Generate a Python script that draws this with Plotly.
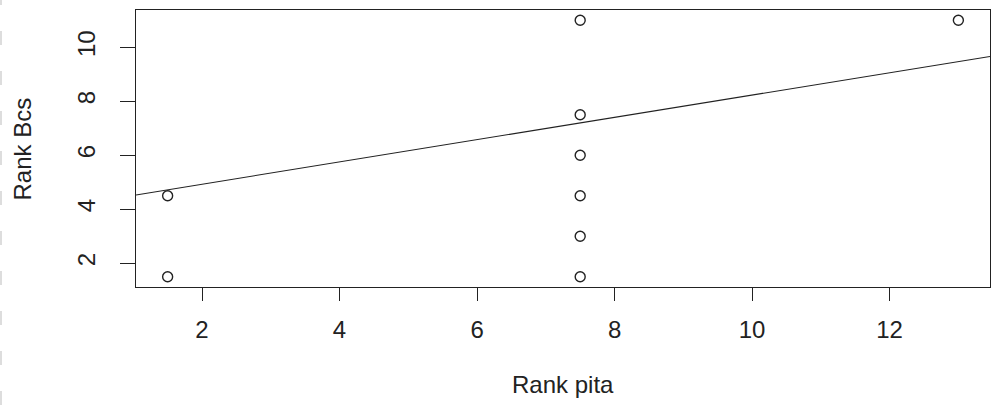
import plotly.graph_objects as go

# Ranked observations
rank_pita = [1.5, 1.5, 7.5, 7.5, 7.5, 7.5, 7.5, 7.5, 13]
rank_bcs = [1.5, 4.5, 1.5, 3, 4.5, 6, 7.5, 11, 11]

# Fitted line (intercept, slope)
fit_intercept = 4.10
fit_slope = 0.413

x_ticks = [2, 4, 6, 8, 10, 12]
y_ticks = [2, 4, 6, 8, 10]

W, H = 993, 405
ML, MR, MT, MB = 136, 3, 10, 118


def padded(vals, frac=0.04):
    lo, hi = min(vals), max(vals)
    d = (hi - lo) * frac
    return [lo - d, hi + d]


xr = padded(rank_pita)
yr = padded(rank_bcs)

FONT = "Liberation Sans, Arial, sans-serif"
INK = "#222222"

fig = go.Figure()

# Regression line spanning the whole plotting region
fig.add_trace(go.Scatter(
    x=xr,
    y=[fit_intercept + fit_slope * v for v in xr],
    mode="lines",
    line=dict(color=INK, width=1.1),
    hoverinfo="skip",
    showlegend=False,
))

fig.add_trace(go.Scatter(
    x=rank_pita,
    y=rank_bcs,
    mode="markers",
    marker=dict(symbol="circle-open", size=10, color=INK, line=dict(width=1.4, color=INK)),
    showlegend=False,
))

axis_common = dict(
    showgrid=False,
    zeroline=False,
    showline=True,
    linecolor=INK,
    linewidth=1.2,
    mirror=True,
    ticks="outside",
    tickcolor=INK,
    tickwidth=1.2,
    tickfont=dict(family=FONT, size=24, color=INK),
)

fig.update_xaxes(
    range=xr,
    tickvals=x_ticks,
    ticklen=13,
    ticklabelstandoff=8,
    **axis_common,
)
fig.update_yaxes(
    range=yr,
    tickvals=y_ticks,
    ticklen=15,
    tickangle=-90,
    ticklabelstandoff=15,
    **axis_common,
)

fig.add_annotation(
    text="Rank pita", xref="paper", yref="paper",
    x=0.5, y=-(384.7 - (H - MB)) / (H - MT - MB),
    xanchor="center", yanchor="middle", showarrow=False,
    font=dict(family=FONT, size=24, color=INK),
)
fig.add_annotation(
    text="Rank Bcs", xref="paper", yref="paper",
    x=-(ML - 22) / (W - ML - MR), y=0.5, textangle=-90,
    xanchor="center", yanchor="middle", showarrow=False,
    font=dict(family=FONT, size=24, color=INK),
)

# faint dashed rule along the left edge of the page
fig.add_shape(
    type="line", xref="paper", yref="paper",
    x0=-(ML - 1) / (W - ML - MR), x1=-(ML - 1) / (W - ML - MR),
    y0=-MB / (H - MT - MB), y1=1 + MT / (H - MT - MB),
    line=dict(color="#dddddd", width=2, dash="14px,26px"),
)

fig.update_layout(
    width=W, height=H,
    margin=dict(l=ML, r=MR, t=MT, b=MB),
    paper_bgcolor="white",
    plot_bgcolor="white",
)

fig.write_html("out.html")
